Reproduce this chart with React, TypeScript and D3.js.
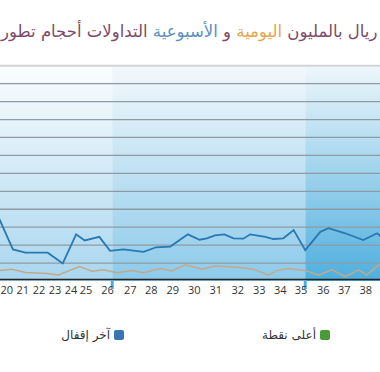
// Weekly / daily trading volume chart (cropped view)
import * as d3 from 'd3'

// x positions are trading-session indices
const weekLabels = ['20', '21', '22', '23', '24', '25', '26', '27', '28', '29', '30', '31', '32', '33', '34', '35', '36', '37', '38']
const weekDays = [6.6, 10.3, 14.1, 17.8, 21.5, 25, 30, 35.3, 40.2, 45.2, 50.2, 55.2, 60.3, 65.3, 70.2, 75, 80.2, 85.1, 90.1]

// weekly volume (blue)
const weeklyDays = [3.9, 8, 10.9, 16.1, 19.6, 22.7, 24.7, 28.1, 30.6, 33.7, 38.4, 41.3, 44.6, 48.7, 51.4, 53.1, 55, 57.2, 59.3, 61.6, 63.2, 66.7, 68.6, 70.9, 73.3, 76, 79.5, 81.4, 85.3, 89.5, 92.7, 94.6]
const weeklyValues = [198, 88, 79, 79, 49, 130, 113, 123, 84, 88, 81, 94, 96, 130, 115, 119, 127, 130, 119, 118, 130, 123, 117, 119, 142, 86, 137, 147, 133, 114, 133, 114]

// daily volume (tan)
const dailyDays = [4.3, 5, 7.8, 10.9, 15.9, 18.6, 23.5, 26.4, 29.1, 32.2, 35.7, 38.4, 42.3, 45, 48.1, 52, 55, 58.1, 60.4, 63.9, 67.4, 69.4, 72.1, 76, 79.1, 82.2, 85.3, 88.4, 90.3, 93.4, 94.6]
const dailyValues = [28, 29, 33, 24, 21, 17, 40, 27, 31, 23, 29, 23, 35, 28, 45, 33, 42, 40, 38, 33, 17, 29, 35, 29, 17, 31, 12, 31, 17, 47, 64]

// shaded periods [start, end] in sessions
const bandStarts = [0, 31.1, 76]
const bandEnds = [31.1, 76, 100]
const bandTop = ['#fbfdfe', '#f3f8fc', '#eef6fb']
const bandBottom = ['#a9d6ef', '#8ccaea', '#4eafde']

const gridValues = [50, 100, 150, 200, 250, 300, 350, 400, 450, 500, 550]

// title words, shown left to right
const titleParts = ['تطور', 'أحجام', 'التداولات', 'الأسبوعية', 'و', 'اليومية', 'بالمليون', 'ريال']
const titleColors = ['#7c4a69', '#7c4a69', '#7c4a69', '#5b8fbf', '#7c4a69', '#e3a64c', '#7c4a69', '#7c4a69']

const legendNames = ['آخر إقفال', 'أعلى نقطة']
const legendColors = ['#3b74b2', '#4a9a3c']

const W = 380
const H = 372

export default function App() {
  const x = d3.scaleLinear().domain([5, 93.5]).range([0, 380.5])
  const y = d3.scaleLinear().domain([0, 600]).range([281, 65.7])

  const weekly = weeklyDays.map((d, i) => [d, weeklyValues[i]] as [number, number])
  const daily = dailyDays.map((d, i) => [d, dailyValues[i]] as [number, number])
  const line = d3.line<[number, number]>().x(d => x(d[0])).y(d => y(d[1]))

  const legendX = [124, 330]

  return (
    <svg width={W} height={H} style={{ position: 'absolute', left: 0, top: 0, background: '#fff' }}>
      <defs>
        {bandTop.map((c, i) => (
          <linearGradient key={i} id={`band${i}`} gradientUnits="userSpaceOnUse" x1={0} y1={y(600)} x2={0} y2={y(0)}>
            <stop offset="0%" stopColor={c} />
            <stop offset="100%" stopColor={bandBottom[i]} />
          </linearGradient>
        ))}
      </defs>

      {/* title */}
      <text x={1} y={37} fontFamily="DejaVu Sans" fontSize={16.5} direction="ltr">
        {titleParts.map((w, i) => (
          <tspan key={i} fill={titleColors[i]}>{w + (i < titleParts.length - 1 ? '\u200E ' : '')}</tspan>
        ))}
      </text>

      {/* plot bands */}
      {bandStarts.map((s, i) => (
        <rect key={i} x={x(s)} y={y(600)} width={x(bandEnds[i]) - x(s)} height={y(0) - y(600)} fill={`url(#band${i})`} />
      ))}

      {/* grid */}
      <line x1={0} x2={W} y1={y(600)} y2={y(600)} stroke="#d2d4d6" strokeWidth={2} />
      {gridValues.map(v => (
        <line key={v} x1={0} x2={W} y1={y(v)} y2={y(v)} stroke="#8f9ba4" strokeWidth={1.3} />
      ))}

      {/* series */}
      <path d={line(daily) || ''} fill="none" stroke="#c4a88c" strokeWidth={1.5} />
      <path d={line(weekly) || ''} fill="none" stroke="#2878b4" strokeWidth={1.8} />

      {/* x axis */}
      <line x1={0} x2={W} y1={y(0) - 1.5} y2={y(0) - 1.5} stroke="#222" strokeWidth={1.5} />
      {bandStarts.slice(1).map((s, i) => (
        <line key={i} x1={x(s)} x2={x(s)} y1={y(0) - 1} y2={y(0) + 8} stroke="#4aaee0" strokeWidth={3} />
      ))}
      {weekLabels.map((l, i) => (
        <text key={l} x={x(weekDays[i])} y={294} textAnchor="middle" fontFamily="Open Sans" fontSize={11} fill="#333">{l}</text>
      ))}

      {/* legend */}
      {legendNames.map((n, i) => (
        <g key={n}>
          <rect x={legendX[i] - 10} y={330} width={10} height={10} rx={2} fill={legendColors[i]} />
          <text x={legendX[i] - 14} y={339} textAnchor="end" fontFamily="DejaVu Sans" fontSize={12} fill="#333">{n}</text>
        </g>
      ))}
    </svg>
  )
}
